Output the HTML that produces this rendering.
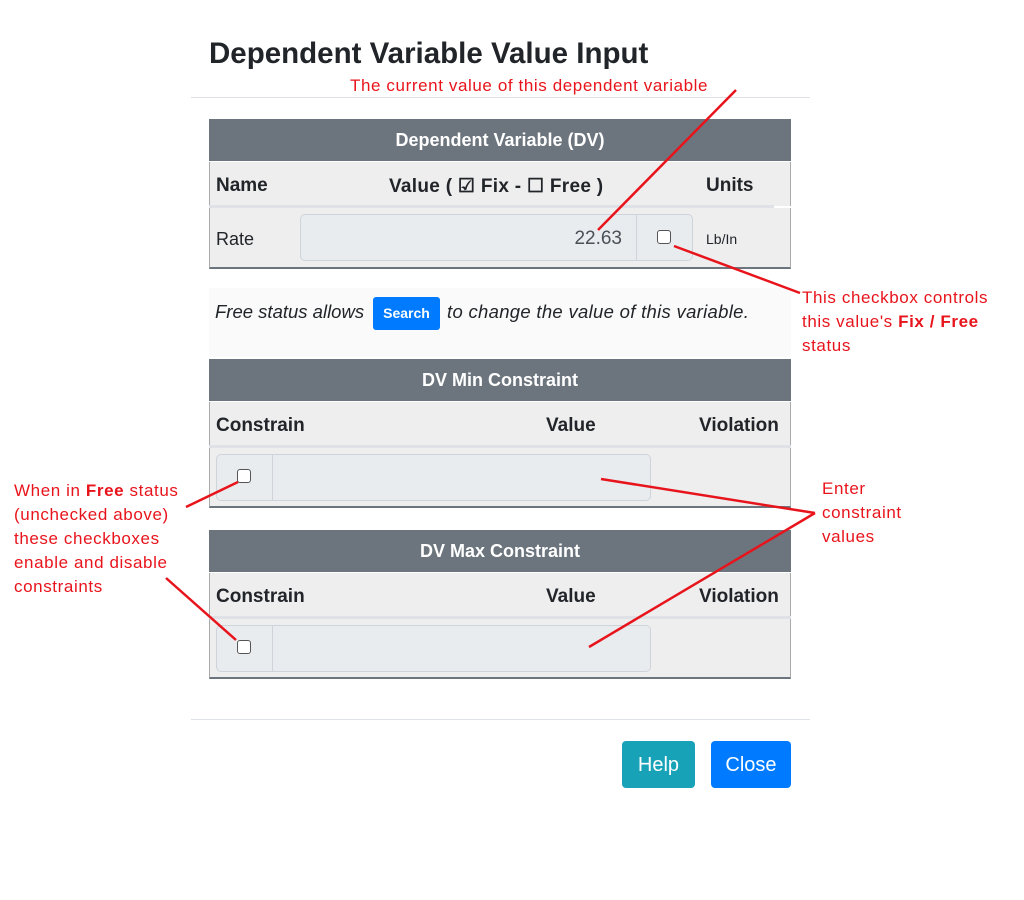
<!DOCTYPE html>
<html><head><meta charset="utf-8"><style>
*{margin:0;padding:0;box-sizing:border-box}
body{width:1024px;height:900px;background:#fff;position:relative;font-family:"Liberation Sans",sans-serif;color:#212529;overflow:hidden}
.a{position:absolute}
.hd{background:#6c757d;color:#fff;font-weight:bold;font-size:18px;text-align:center;line-height:42px}
.hr{background:#eee;font-weight:bold;font-size:19px}
.dr{background:#eee}
.ig{background:#e9ecef;border:1px solid #ced4da;border-radius:5px}
.cb{width:14px;height:14px;border:1px solid #555;border-radius:3px;background:#fff}
.red{color:#e8141c;font-size:17px;line-height:24px;letter-spacing:0.6px}
</style></head><body>
<div class="a" style="left:209px;top:37px;font-size:29.5px;font-weight:bold">Dependent Variable Value Input</div>
<div class="a" style="left:191px;top:97px;width:619px;height:1px;background:#dee2e6"></div>

<div class="a hd" style="left:209px;top:119px;width:582px;height:42px">Dependent Variable (DV)</div>
<div class="a hr" style="left:209px;top:162px;width:582px;height:44px;border-left:1px solid #aaa;border-right:1px solid #aaa"></div>
<div class="a hr" style="left:216px;top:175px">Name</div>
<div class="a hr" style="left:389px;top:175px;background:none;letter-spacing:0.3px">Value ( ☑ Fix - ☐ Free )</div>
<div class="a hr" style="left:706px;top:175px;background:none">Units</div>
<div class="a" style="left:209px;top:205px;width:565px;height:3px;background:#dee2e6"></div>
<div class="a dr" style="left:209px;top:208px;width:582px;height:61px;border:1px solid #aaa;border-top:none;border-bottom:2px solid #6c757d"></div>
<div class="a" style="left:216px;top:229px;font-size:18px">Rate</div>
<div class="a ig" style="left:300px;top:214px;width:393px;height:47px"></div>
<div class="a" style="left:636px;top:215px;width:1px;height:45px;background:#ced4da"></div>
<div class="a" style="left:556px;top:228px;width:66px;text-align:right;font-size:19px;color:#495057">22.63</div>
<div class="a cb" style="left:657px;top:230px"></div>
<div class="a" style="left:706px;top:231px;font-size:14px">Lb/In</div>

<div class="a" style="left:209px;top:288px;width:582px;height:69px;background:#fafafa"></div>
<div class="a" style="left:215px;top:301px;font-size:18.5px;font-style:italic">Free status allows</div>
<div class="a" style="left:373px;top:297px;width:67px;height:33px;background:#007bff;border-radius:3px;color:#fff;font-size:14px;font-weight:bold;text-align:center;line-height:33px">Search</div>
<div class="a" style="left:447px;top:301px;font-size:18.5px;font-style:italic;letter-spacing:0.3px">to change the value of this variable.</div>

<div class="a hd" style="left:209px;top:359px;width:582px;height:42px">DV Min Constraint</div>
<div class="a hr" style="left:209px;top:402px;width:582px;height:44px;border-left:1px solid #aaa;border-right:1px solid #aaa"></div>
<div class="a hr" style="left:216px;top:415px;background:none">Constrain</div>
<div class="a hr" style="left:546px;top:415px;background:none">Value</div>
<div class="a hr" style="left:699px;top:415px;background:none">Violation</div>
<div class="a" style="left:209px;top:445px;width:582px;height:3px;background:#dee2e6"></div>
<div class="a dr" style="left:209px;top:448px;width:582px;height:60px;border:1px solid #aaa;border-top:none;border-bottom:2px solid #6c757d"></div>
<div class="a ig" style="left:216px;top:454px;width:435px;height:47px"></div>
<div class="a" style="left:272px;top:455px;width:1px;height:45px;background:#ced4da"></div>
<div class="a cb" style="left:237px;top:469px"></div>

<div class="a hd" style="left:209px;top:530px;width:582px;height:42px">DV Max Constraint</div>
<div class="a hr" style="left:209px;top:573px;width:582px;height:44px;border-left:1px solid #aaa;border-right:1px solid #aaa"></div>
<div class="a hr" style="left:216px;top:586px;background:none">Constrain</div>
<div class="a hr" style="left:546px;top:586px;background:none">Value</div>
<div class="a hr" style="left:699px;top:586px;background:none">Violation</div>
<div class="a" style="left:209px;top:616px;width:582px;height:3px;background:#dee2e6"></div>
<div class="a dr" style="left:209px;top:619px;width:582px;height:60px;border:1px solid #aaa;border-top:none;border-bottom:2px solid #6c757d"></div>
<div class="a ig" style="left:216px;top:625px;width:435px;height:47px"></div>
<div class="a" style="left:272px;top:626px;width:1px;height:45px;background:#ced4da"></div>
<div class="a cb" style="left:237px;top:640px"></div>

<div class="a" style="left:191px;top:719px;width:619px;height:1px;background:#dee2e6"></div>
<div class="a" style="left:622px;top:741px;width:73px;height:47px;background:#17a2b8;border-radius:4px;color:#fff;font-size:20px;text-align:center;line-height:48px">Help</div>
<div class="a" style="left:711px;top:741px;width:80px;height:47px;background:#007bff;border-radius:4px;color:#fff;font-size:20px;text-align:center;line-height:48px">Close</div>

<div class="a red" style="left:350px;top:74px">The current value of this dependent variable</div>
<div class="a red" style="left:802px;top:286px">This checkbox controls<br>this value's <b>Fix / Free</b><br>status</div>
<div class="a red" style="left:14px;top:479px">When in <b>Free</b> status<br>(unchecked above)<br>these checkboxes<br>enable and disable<br>constraints</div>
<div class="a red" style="left:822px;top:477px">Enter<br>constraint<br>values</div>
<svg class="a" style="left:0;top:0" width="1024" height="900">
<g stroke="#e8141c" stroke-width="2.5" fill="none">
<line x1="736" y1="90" x2="598" y2="230"/>
<line x1="674" y1="246" x2="800" y2="293"/>
<line x1="186" y1="507" x2="238" y2="482"/>
<line x1="166" y1="578" x2="236" y2="640"/>
<line x1="601" y1="479" x2="815" y2="513"/>
<line x1="589" y1="647" x2="815" y2="513"/>
</g></svg>
</body></html>
